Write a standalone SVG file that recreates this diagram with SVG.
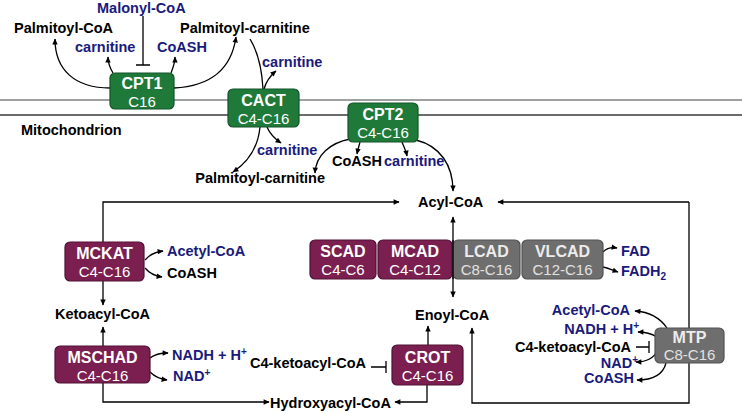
<svg xmlns="http://www.w3.org/2000/svg" width="742" height="413" viewBox="0 0 742 413">
<defs>
<marker id="ah" viewBox="0 0 10 10" refX="9" refY="5" markerWidth="7" markerHeight="6" markerUnits="userSpaceOnUse" orient="auto"><path d="M0,0.5 L10,5 L0,9.5 z" fill="#000"/></marker>
<style>
text{font-family:"Liberation Sans",Arial,sans-serif}
.lb{font-size:14.5px;font-weight:bold;fill:#000}
.bl{fill:#1a1a7c}
.t{font-size:16px;font-weight:bold;fill:#fff;text-anchor:middle}
.s{font-size:15px;fill:#fff;text-anchor:middle}
.tg{fill:#ececec}
.sg{fill:#e2e2e2}
.g{fill:#1f7a3a;stroke:#13532a;stroke-width:1.2}
.p{fill:#7a1f50;stroke:#4e1234;stroke-width:1.2}
.y{fill:#6e6e6e;stroke:#525252;stroke-width:1.2}
.c{fill:none;stroke:#000;stroke-width:1.3}
.a{marker-end:url(#ah)}
.sup{font-size:10px}
</style>
</defs>
<rect width="742" height="413" fill="#fff"/>
<g id="membrane">
<line x1="0" y1="100" x2="742" y2="100" stroke="#808080" stroke-width="1.5"/>
<line x1="0" y1="115" x2="742" y2="115" stroke="#3a3a3a" stroke-width="1.5"/>
</g>
<g id="connectors">
<path class="c a" d="M110,88 C75,88 55,70 55,39"/>
<path class="c a" d="M113,73 C110,68 108,64 108,57"/>
<path class="c a" d="M171,73 C173,68 175,63 175,57"/>
<path class="c a" d="M174,88 C215,86 232,65 236,37"/>
<path class="c" d="M143,16 V65 M136,65 H150"/>
<path class="c" d="M250,39 C258,52 262,70 263,89"/>
<path class="c a" d="M260,127 C258,148 248,162 233,172"/>
<path class="c a" d="M264,89 C266,82 270,76 276,71"/>
<path class="c a" d="M267,127 C270,134 275,139 281,143"/>
<path class="c a" d="M350,139 C330,143 316,155 315,173"/>
<path class="c a" d="M360,142 C359,146 358,149 357,154"/>
<path class="c a" d="M402,142 C404,147 406,151 407,156"/>
<path class="c a" d="M416,140 C440,146 453,165 453,191"/>
<path class="c a" d="M103,242 V202 H399"/>
<path class="c a" d="M689,202 H498"/>
<path class="c a" d="M689,202 V403 H472 V328"/>
<path class="c a" d="M453,256 V217"/>
<path class="c a" d="M453,256 V297"/>
<path class="c a" d="M603,252 C607,248 611,247 617,248"/>
<path class="c a" d="M603,267 C608,268 612,270 618,272"/>
<path class="c a" d="M145,260 C150,254 155,252 163,251"/>
<path class="c a" d="M145,268 C150,274 155,276 162,277"/>
<path class="c a" d="M103,281 V305"/>
<path class="c a" d="M103,346 V327"/>
<path class="c a" d="M150,358 C155,354 160,353 168,353"/>
<path class="c a" d="M150,372 C155,377 160,379 167,380"/>
<path class="c a" d="M103,383 V402 H269"/>
<path class="c a" d="M427,385 V402 H395"/>
<path class="c a" d="M428,345 V326"/>
<path class="c" d="M371,367 H386 M386,361 V373"/>
<path class="c a" d="M667,328 C660,318 650,312 635,311"/>
<path class="c a" d="M657,337 C652,334 646,332 638,332"/>
<path class="c" d="M636,347 H649 M649,341 V353"/>
<path class="c a" d="M658,350 C654,358 646,362 636,362"/>
<path class="c a" d="M666,363 C663,375 652,380 637,380"/>
</g>
<g id="CPT1"><rect class="g" x="110" y="73" width="64" height="36" rx="5"/><text class="t" x="142" y="89">CPT1</text><text class="s" x="142" y="107">C16</text></g>
<g id="CACT"><rect class="g" x="228" y="89" width="71" height="38" rx="5"/><text class="t" x="263.5" y="106">CACT</text><text class="s" x="263.5" y="124">C4-C16</text></g>
<g id="CPT2"><rect class="g" x="348" y="103" width="70" height="39" rx="5"/><text class="t" x="383" y="120">CPT2</text><text class="s" x="383" y="138">C4-C16</text></g>
<g id="MCKAT"><rect class="p" x="65" y="242" width="79" height="39" rx="5"/><text class="t" x="104.5" y="259">MCKAT</text><text class="s" x="104.5" y="277">C4-C16</text></g>
<g id="MSCHAD"><rect class="p" x="55" y="346" width="95" height="37" rx="5"/><text class="t" x="102.5" y="363">MSCHAD</text><text class="s" x="102.5" y="381">C4-C16</text></g>
<g id="CROT"><rect class="p" x="392" y="345" width="71" height="40" rx="5"/><text class="t" x="427.5" y="363">CROT</text><text class="s" x="427.5" y="381">C4-C16</text></g>
<g id="SCAD"><rect class="p" x="310" y="240" width="66" height="39" rx="5"/><text class="t" x="343" y="257">SCAD</text><text class="s" x="343" y="275">C4-C6</text></g>
<g id="MCAD"><rect class="p" x="378" y="240" width="74" height="39" rx="5"/><text class="t" x="415" y="257">MCAD</text><text class="s" x="415" y="275">C4-C12</text></g>
<g id="LCAD"><rect class="y" x="453" y="240" width="67" height="39" rx="5"/><text class="t tg" x="486.5" y="257">LCAD</text><text class="s sg" x="486.5" y="275">C8-C16</text></g>
<g id="VLCAD"><rect class="y" x="522" y="240" width="81" height="39" rx="5"/><text class="t tg" x="562.5" y="257">VLCAD</text><text class="s sg" x="562.5" y="275">C12-C16</text></g>
<g id="MTP"><rect class="y" x="655" y="328" width="69" height="35" rx="5"/><text class="t tg" x="689.5" y="343">MTP</text><text class="s sg" x="689.5" y="360">C8-C16</text></g>
<line x1="453" y1="240" x2="453" y2="279" stroke="#000" stroke-width="1.3"/>
<g id="labels">
<text class="lb bl" x="97" y="13">Malonyl-CoA</text>
<text class="lb" x="14" y="33">Palmitoyl-CoA</text>
<text class="lb" x="180" y="33">Palmitoyl-carnitine</text>
<text class="lb bl" x="75" y="52">carnitine</text>
<text class="lb bl" x="157" y="52">CoASH</text>
<text class="lb bl" x="262" y="67">carnitine</text>
<text class="lb" x="21" y="135">Mitochondrion</text>
<text class="lb bl" x="257" y="155">carnitine</text>
<text class="lb" x="325" y="183" text-anchor="end">Palmitoyl-carnitine</text>
<text class="lb" x="332" y="166">CoASH</text>
<text class="lb bl" x="384" y="166">carnitine</text>
<text class="lb" x="418" y="207">Acyl-CoA</text>
<text class="lb bl" x="167" y="256">Acetyl-CoA</text>
<text class="lb" x="167" y="278">CoASH</text>
<text class="lb bl" x="621" y="256">FAD</text>
<text class="lb bl" x="621" y="276">FADH<tspan class="sup" dy="4">2</tspan></text>
<text class="lb" x="55" y="319">Ketoacyl-CoA</text>
<text class="lb" x="415" y="320">Enoyl-CoA</text>
<text class="lb bl" x="172" y="360">NADH + H<tspan class="sup" dy="-5">+</tspan></text>
<text class="lb bl" x="173" y="381">NAD<tspan class="sup" dy="-5">+</tspan></text>
<text class="lb" x="250" y="368">C4-ketoacyl-CoA</text>
<text class="lb" x="270" y="408">Hydroxyacyl-CoA</text>
<text class="lb bl" x="630" y="315" text-anchor="end">Acetyl-CoA</text>
<text class="lb bl" x="639" y="334" text-anchor="end">NADH + H<tspan class="sup" dy="-5">+</tspan></text>
<text class="lb" x="631" y="352" text-anchor="end">C4-ketoacyl-CoA</text>
<text class="lb bl" x="638" y="368" text-anchor="end">NAD<tspan class="sup" dy="-5">+</tspan></text>
<text class="lb bl" x="634" y="383" text-anchor="end">CoASH</text>
</g>
</svg>
